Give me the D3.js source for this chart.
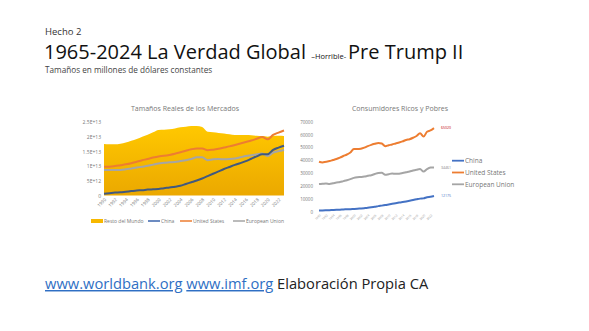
<!DOCTYPE html>
<html>
<head>
<meta charset="utf-8">
<script src="https://cdn.jsdelivr.net/npm/d3@7"></script>
<style>
  html, body { margin: 0; padding: 0; background: #fff; }
  svg { display: block; font-family: "Open Sans", "Noto Sans", sans-serif; }
</style>
</head>
<body>
<svg id="container" width="589" height="331"></svg>
<script>
const years = [1990,1991,1992,1993,1994,1995,1996,1997,1998,1999,2000,2001,2002,2003,2004,2005,2006,2007,2008,2009,2010,2011,2012,2013,2014,2015,2016,2017,2018,2019,2020,2021,2022,2023];
const tickYears = [1990,1992,1994,1996,1998,2000,2002,2004,2006,2008,2010,2012,2014,2016,2018,2020,2022];

// market sizes, units of 1E13 constant dollars
const restoMundo = [1.75,1.74,1.74,1.76,1.80,1.86,1.92,2.00,2.07,2.15,2.23,2.24,2.25,2.28,2.32,2.34,2.36,2.36,2.33,2.17,2.15,2.13,2.11,2.08,2.06,2.06,2.06,2.05,2.03,2.02,2.00,2.02,2.03,2.02];
const chinaGdp = [0.06,0.08,0.10,0.11,0.13,0.15,0.17,0.18,0.20,0.21,0.22,0.25,0.27,0.30,0.33,0.39,0.45,0.51,0.58,0.66,0.74,0.82,0.90,0.97,1.04,1.10,1.17,1.25,1.33,1.40,1.40,1.55,1.63,1.69];
const usGdp = [0.98,0.98,1.00,1.03,1.06,1.10,1.15,1.20,1.24,1.29,1.33,1.35,1.38,1.42,1.47,1.52,1.57,1.60,1.60,1.54,1.56,1.59,1.63,1.67,1.72,1.77,1.82,1.87,1.93,1.99,1.91,2.06,2.14,2.21];
const euGdp = [0.87,0.87,0.87,0.87,0.89,0.92,0.95,0.98,1.01,1.05,1.09,1.11,1.13,1.14,1.17,1.20,1.24,1.30,1.30,1.20,1.23,1.24,1.23,1.24,1.26,1.30,1.34,1.37,1.40,1.43,1.34,1.46,1.51,1.55];
const leftTicks = [0, 0.5, 1, 1.5, 2, 2.5];
const leftTickLabels = ["0","5E+12","1E+13","1.5E+13","2E+13","2.5E+13"];

// per capita, constant dollars
const chinaPc = [860,930,1050,1190,1330,1480,1610,1750,1870,2000,2150,2320,2520,2760,3030,3400,3820,4330,4720,5150,5650,6150,6600,7070,7530,8016,8540,9090,9630,10170,10370,11240,11570,12175];
const usPc = [38900,38300,38900,39400,40200,41000,42000,43300,44500,46000,48800,48700,49000,49800,51000,52000,52800,53500,53000,51000,51700,52300,53100,53800,54700,55800,56400,57500,58900,61000,58400,62200,63200,65020];
const euPc = [21500,21700,21900,21600,22100,22700,23100,23800,24500,25300,26300,26800,27000,27300,27900,28400,29300,30100,30200,28700,29200,29700,29500,29600,30100,30700,31300,32100,32700,33200,31200,33200,34300,34461];
const rightTicks = [0,10000,20000,30000,40000,50000,60000,70000];

const yellow = "#F7B800", blue = "#3B64AD", orange = "#ED7D31", gray = "#A5A5A5";

const svg = d3.select("#container");

// headings
svg.append("text").attr("x", 45).attr("y", 34.5).attr("font-size", 9.5).attr("fill", "#333").text("Hecho 2");
const t = svg.append("text").attr("x", 44).attr("y", 59).attr("fill", "#111").attr("font-size", 20);
t.append("tspan").text("1965-2024 La Verdad Global ");
t.append("tspan").attr("font-size", 7.5).text("–Horrible- ");
t.append("tspan").text("Pre Trump II");
svg.append("text").attr("x", 45).attr("y", 72.5).attr("font-size", 8.2).attr("fill", "#444")
  .text("Tamaños en millones de dólares constantes");

// footer
const f = svg.append("text").attr("x", 45).attr("y", 289).attr("font-size", 14.7).attr("fill", "#222");
f.append("tspan").attr("fill", "#2F6FC4").attr("text-decoration", "underline").text("www.worldbank.org");
f.append("tspan").text(" ");
f.append("tspan").attr("fill", "#2F6FC4").attr("text-decoration", "underline").text("www.imf.org");
f.append("tspan").text(" Elaboración Propia CA");

// ---------- left chart ----------
const xL = d3.scaleLinear().domain([1990, 2023]).range([104, 284]);
const yL = d3.scaleLinear().domain([0, 2.5]).range([195.5, 122]);

const defs = svg.append("defs");
const grad = defs.append("linearGradient").attr("id", "yel").attr("x1", 0).attr("y1", 0).attr("x2", 0).attr("y2", 1);
grad.append("stop").attr("offset", "0%").attr("stop-color", "#FFC800");
grad.append("stop").attr("offset", "100%").attr("stop-color", "#EBA800");

svg.append("text").attr("x", 185).attr("y", 111).attr("text-anchor", "middle")
  .attr("font-size", 7).attr("fill", "#777").text("Tamaños Reales de los Mercados");

svg.append("path")
  .datum(restoMundo)
  .attr("fill", "url(#yel)")
  .attr("d", d3.area().x((d, i) => xL(years[i])).y0(yL(0)).y1(d => yL(d)).curve(d3.curveMonotoneX));

const leftSeries = [
  {v: euGdp, c: gray},
  {v: usGdp, c: orange},
  {v: chinaGdp, c: "#41597F"}
];
leftSeries.forEach(s => {
  svg.append("path").datum(s.v)
    .attr("fill", "none").attr("stroke", s.c).attr("stroke-width", 2)
    .attr("d", d3.line().x((d, i) => xL(years[i])).y(d => yL(d)).curve(d3.curveMonotoneX));
});

const axL = svg.append("g").attr("transform", "translate(101,0)")
  .call(d3.axisLeft(yL).tickValues(leftTicks).tickFormat((d, i) => leftTickLabels[i]).tickSize(0).tickPadding(0));
axL.select(".domain").remove();
axL.selectAll("text").attr("font-size", 5).attr("fill", "#777").attr("font-family", "Open Sans, sans-serif");

const axLx = svg.append("g").attr("transform", "translate(0,197)")
  .call(d3.axisBottom(xL).tickValues(tickYears).tickFormat(d3.format("d")).tickSize(0).tickPadding(0));
axLx.select(".domain").remove();
axLx.selectAll("text").attr("font-size", 4.5).attr("fill", "#777").attr("font-family", "Open Sans, sans-serif")
  .attr("text-anchor", "end").attr("dy", 0).attr("transform", "translate(2,3) rotate(-45)");

const legL = [
  {n: "Resto del Mundo", c: yellow, x: 91, w: 4},
  {n: "China", c: blue, x: 148, w: 1.5},
  {n: "United States", c: orange, x: 180, w: 1.5},
  {n: "European Union", c: gray, x: 233, w: 1.5}
];
legL.forEach(l => {
  svg.append("line").attr("x1", l.x).attr("x2", l.x + 12).attr("y1", 221).attr("y2", 221)
    .attr("stroke", l.c).attr("stroke-width", l.w);
  svg.append("text").attr("x", l.x + 13).attr("y", 222.7).attr("font-size", 5).attr("fill", "#777").text(l.n);
});

// ---------- right chart ----------
const xR = d3.scaleLinear().domain([1990, 2023]).range([319, 434]);
const yR = d3.scaleLinear().domain([0, 70000]).range([211.7, 121.7]);

svg.append("text").attr("x", 400).attr("y", 111).attr("text-anchor", "middle")
  .attr("font-size", 7).attr("fill", "#777").text("Consumidores Ricos y Pobres");

const axR = svg.append("g").attr("transform", "translate(313,0)")
  .call(d3.axisLeft(yR).tickValues(rightTicks).tickFormat(d3.format("d")).tickSize(0).tickPadding(0));
axR.select(".domain").remove();
axR.selectAll("text").attr("font-size", 4.5).attr("fill", "#777").attr("font-family", "Open Sans, sans-serif");

const axRx = svg.append("g").attr("transform", "translate(0,213)")
  .call(d3.axisBottom(xR).tickValues(tickYears).tickFormat(d3.format("d")).tickSize(0).tickPadding(0));
axRx.select(".domain").remove();
axRx.selectAll("text").attr("font-size", 3).attr("fill", "#999").attr("font-family", "Open Sans, sans-serif")
  .attr("text-anchor", "end").attr("dy", 0).attr("transform", "translate(1.5,2.5) rotate(-45)");

const rightSeries = [
  {n: "China", v: chinaPc, c: "#4472C4", lc: "#4472C4"},
  {n: "United States", v: usPc, c: orange, lc: "#C00000"},
  {n: "European Union", v: euPc, c: gray, lc: "#7F7F7F"}
];
rightSeries.forEach((s, k) => {
  svg.append("path").datum(s.v)
    .attr("fill", "none").attr("stroke", s.c).attr("stroke-width", 2)
    .attr("d", d3.line().x((d, i) => xR(years[i])).y(d => yR(d)).curve(d3.curveMonotoneX));
  const last = s.v[s.v.length - 1];
  svg.append("text").attr("x", xR(2023) + 7).attr("y", yR(last) + 1.2)
    .attr("font-size", 3.5).attr("fill", s.lc).text(last);
  const ly = 160.7 + k * 11.8;
  svg.append("line").attr("x1", 452).attr("x2", 464).attr("y1", ly).attr("y2", ly)
    .attr("stroke", s.c).attr("stroke-width", 1.8);
  svg.append("text").attr("x", 465).attr("y", ly + 2.3).attr("font-size", 6.5).attr("fill", "#777").text(s.n);
});
</script>
</body>
</html>
